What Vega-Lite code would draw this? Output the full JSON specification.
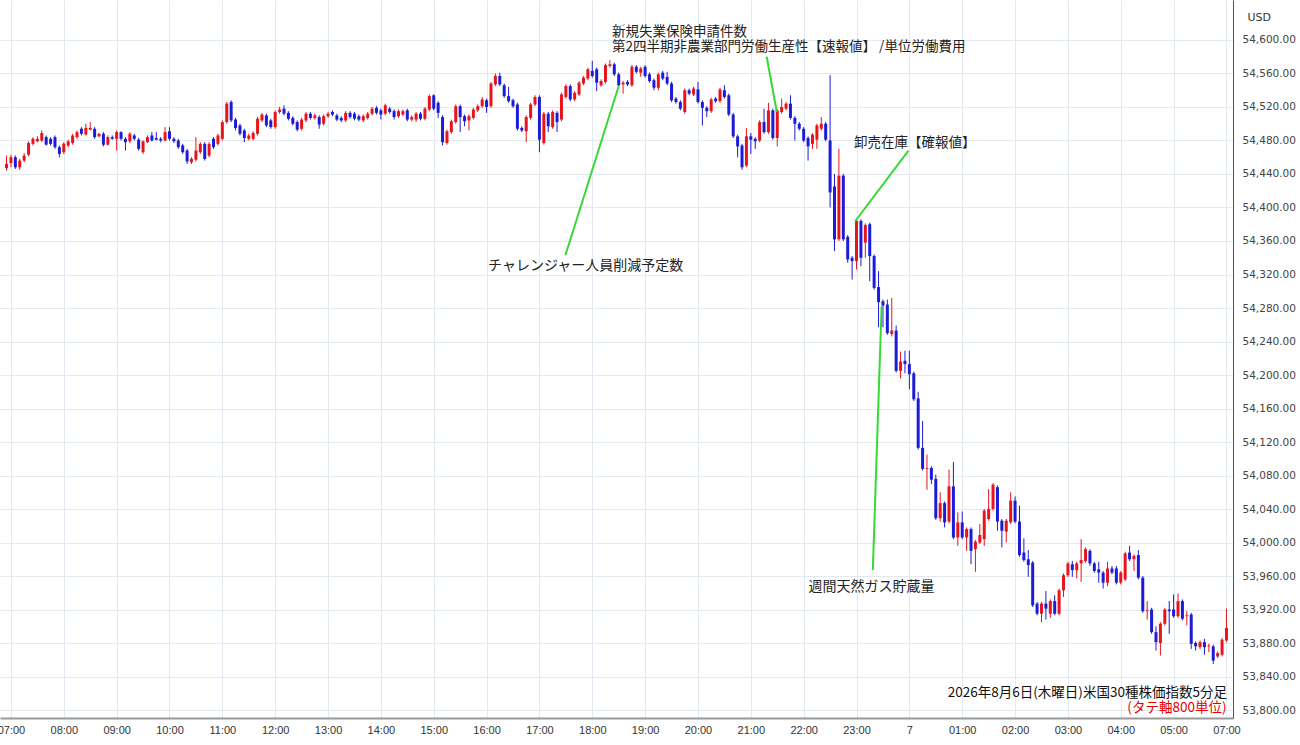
{
"$schema": "https://vega.github.io/schema/vega-lite/v6.json",
"width": 1233, "height": 718,
"autosize": {"type": "none"},
"padding": {"left": 0, "top": 0, "right": 67, "bottom": 27},
"background": "white",
"config": {
"view": {"stroke": null},
"font": "Noto Sans CJK JP",
"axis": {"grid": true, "gridColor": "#e3e9f0", "gridWidth": 1, "ticks": false, "labelOverlap": false, "labelFlush": false},
"axisX": {"domainColor": "#9a9a9a", "domainWidth": 2, "labelFont": "Liberation Sans", "labelFontSize": 11, "labelColor": "#333333", "labelPadding": 6},
"axisY": {"domainColor": "#555555", "domainWidth": 1, "labelFont": "DejaVu Sans", "labelFontSize": 10.5, "labelColor": "#444444", "labelPadding": 9,
"titleAngle": 0, "titleX": 14, "titleY": 17, "titleAlign": "left", "titleBaseline": "middle", "titleFont": "DejaVu Sans", "titleFontSize": 11, "titleFontWeight": "normal", "titleColor": "#333333"}
},
"datasets": {
"ohlc": [
{"i":-1,"o":54447,"h":54462,"l":54444,"c":54452},
{"i":0,"o":54453,"h":54463,"l":54448,"c":54460},
{"i":1,"o":54460,"h":54462,"l":54446,"c":54448},
{"i":2,"o":54448,"h":54458,"l":54445,"c":54456},
{"i":3,"o":54456,"h":54465,"l":54454,"c":54462},
{"i":4,"o":54463,"h":54479,"l":54461,"c":54477},
{"i":5,"o":54476,"h":54484,"l":54474,"c":54482},
{"i":6,"o":54479,"h":54485,"l":54478,"c":54482},
{"i":7,"o":54480,"h":54492,"l":54478,"c":54489},
{"i":8,"o":54484,"h":54486,"l":54474,"c":54475},
{"i":9,"o":54482,"h":54484,"l":54474,"c":54476},
{"i":10,"o":54484,"h":54486,"l":54470,"c":54472},
{"i":11,"o":54472,"h":54474,"l":54460,"c":54464},
{"i":12,"o":54466,"h":54478,"l":54464,"c":54476},
{"i":13,"o":54474,"h":54481,"l":54472,"c":54479},
{"i":14,"o":54477,"h":54488,"l":54475,"c":54486},
{"i":15,"o":54484,"h":54492,"l":54482,"c":54490},
{"i":16,"o":54494,"h":54496,"l":54486,"c":54488},
{"i":17,"o":54487,"h":54500,"l":54486,"c":54495},
{"i":18,"o":54493,"h":54502,"l":54492,"c":54495},
{"i":19,"o":54494,"h":54496,"l":54482,"c":54484},
{"i":20,"o":54485,"h":54489,"l":54484,"c":54488},
{"i":21,"o":54488,"h":54490,"l":54473,"c":54475},
{"i":22,"o":54475,"h":54486,"l":54474,"c":54484},
{"i":23,"o":54484,"h":54486,"l":54481,"c":54482},
{"i":24,"o":54482,"h":54492,"l":54468,"c":54490},
{"i":25,"o":54490,"h":54491,"l":54480,"c":54482},
{"i":26,"o":54482,"h":54484,"l":54468,"c":54478},
{"i":27,"o":54479,"h":54490,"l":54477,"c":54488},
{"i":28,"o":54486,"h":54488,"l":54480,"c":54482},
{"i":29,"o":54481,"h":54483,"l":54468,"c":54470},
{"i":30,"o":54466,"h":54480,"l":54464,"c":54479},
{"i":31,"o":54478,"h":54486,"l":54477,"c":54484},
{"i":32,"o":54486,"h":54490,"l":54479,"c":54480},
{"i":33,"o":54483,"h":54490,"l":54480,"c":54481},
{"i":34,"o":54482,"h":54484,"l":54478,"c":54480},
{"i":35,"o":54480,"h":54496,"l":54479,"c":54490},
{"i":36,"o":54491,"h":54496,"l":54480,"c":54482},
{"i":37,"o":54482,"h":54484,"l":54477,"c":54479},
{"i":38,"o":54480,"h":54482,"l":54470,"c":54472},
{"i":39,"o":54474,"h":54476,"l":54464,"c":54466},
{"i":40,"o":54468,"h":54470,"l":54452,"c":54455},
{"i":41,"o":54454,"h":54460,"l":54452,"c":54458},
{"i":42,"o":54457,"h":54484,"l":54455,"c":54468},
{"i":43,"o":54466,"h":54478,"l":54464,"c":54476},
{"i":44,"o":54476,"h":54478,"l":54456,"c":54458},
{"i":45,"o":54462,"h":54478,"l":54460,"c":54476},
{"i":46,"o":54482,"h":54484,"l":54470,"c":54472},
{"i":47,"o":54476,"h":54488,"l":54474,"c":54486},
{"i":48,"o":54482,"h":54504,"l":54480,"c":54502},
{"i":49,"o":54502,"h":54526,"l":54500,"c":54524},
{"i":50,"o":54526,"h":54528,"l":54502,"c":54504},
{"i":51,"o":54505,"h":54507,"l":54492,"c":54495},
{"i":52,"o":54498,"h":54500,"l":54486,"c":54488},
{"i":53,"o":54492,"h":54494,"l":54478,"c":54483},
{"i":54,"o":54482,"h":54488,"l":54480,"c":54486},
{"i":55,"o":54482,"h":54491,"l":54480,"c":54489},
{"i":56,"o":54488,"h":54508,"l":54486,"c":54506},
{"i":57,"o":54504,"h":54513,"l":54502,"c":54511},
{"i":58,"o":54510,"h":54512,"l":54496,"c":54498},
{"i":59,"o":54504,"h":54506,"l":54494,"c":54496},
{"i":60,"o":54496,"h":54516,"l":54494,"c":54514},
{"i":61,"o":54514,"h":54520,"l":54512,"c":54517},
{"i":62,"o":54518,"h":54522,"l":54510,"c":54512},
{"i":63,"o":54513,"h":54515,"l":54504,"c":54506},
{"i":64,"o":54507,"h":54509,"l":54498,"c":54500},
{"i":65,"o":54502,"h":54504,"l":54491,"c":54493},
{"i":66,"o":54494,"h":54507,"l":54492,"c":54505},
{"i":67,"o":54504,"h":54514,"l":54502,"c":54512},
{"i":68,"o":54512,"h":54514,"l":54505,"c":54507},
{"i":69,"o":54507,"h":54512,"l":54505,"c":54510},
{"i":70,"o":54508,"h":54510,"l":54494,"c":54499},
{"i":71,"o":54500,"h":54511,"l":54498,"c":54509},
{"i":72,"o":54509,"h":54514,"l":54507,"c":54512},
{"i":73,"o":54514,"h":54516,"l":54509,"c":54511},
{"i":74,"o":54510,"h":54512,"l":54503,"c":54505},
{"i":75,"o":54507,"h":54509,"l":54502,"c":54504},
{"i":76,"o":54504,"h":54515,"l":54502,"c":54513},
{"i":77,"o":54513,"h":54515,"l":54506,"c":54508},
{"i":78,"o":54512,"h":54514,"l":54504,"c":54506},
{"i":79,"o":54509,"h":54511,"l":54503,"c":54505},
{"i":80,"o":54504,"h":54511,"l":54502,"c":54509},
{"i":81,"o":54507,"h":54514,"l":54505,"c":54512},
{"i":82,"o":54512,"h":54520,"l":54510,"c":54518},
{"i":83,"o":54519,"h":54521,"l":54511,"c":54513},
{"i":84,"o":54516,"h":54518,"l":54505,"c":54511},
{"i":85,"o":54512,"h":54524,"l":54510,"c":54522},
{"i":86,"o":54518,"h":54520,"l":54512,"c":54514},
{"i":87,"o":54515,"h":54517,"l":54505,"c":54508},
{"i":88,"o":54509,"h":54517,"l":54507,"c":54515},
{"i":89,"o":54511,"h":54517,"l":54509,"c":54515},
{"i":90,"o":54516,"h":54518,"l":54503,"c":54505},
{"i":91,"o":54505,"h":54510,"l":54503,"c":54508},
{"i":92,"o":54505,"h":54514,"l":54502,"c":54512},
{"i":93,"o":54512,"h":54514,"l":54504,"c":54506},
{"i":94,"o":54506,"h":54520,"l":54504,"c":54518},
{"i":95,"o":54517,"h":54535,"l":54515,"c":54533},
{"i":96,"o":54534,"h":54535,"l":54516,"c":54518},
{"i":97,"o":54525,"h":54527,"l":54507,"c":54513},
{"i":98,"o":54508,"h":54510,"l":54474,"c":54478},
{"i":99,"o":54477,"h":54493,"l":54475,"c":54491},
{"i":100,"o":54490,"h":54505,"l":54488,"c":54503},
{"i":101,"o":54502,"h":54523,"l":54500,"c":54521},
{"i":102,"o":54521,"h":54523,"l":54490,"c":54508},
{"i":103,"o":54509,"h":54511,"l":54497,"c":54503},
{"i":104,"o":54504,"h":54511,"l":54492,"c":54509},
{"i":105,"o":54507,"h":54519,"l":54505,"c":54517},
{"i":106,"o":54516,"h":54523,"l":54514,"c":54521},
{"i":107,"o":54521,"h":54532,"l":54519,"c":54529},
{"i":108,"o":54528,"h":54530,"l":54513,"c":54520},
{"i":109,"o":54521,"h":54550,"l":54519,"c":54548},
{"i":110,"o":54547,"h":54560,"l":54545,"c":54557},
{"i":111,"o":54557,"h":54561,"l":54545,"c":54547},
{"i":112,"o":54546,"h":54548,"l":54531,"c":54533},
{"i":113,"o":54533,"h":54544,"l":54525,"c":54527},
{"i":114,"o":54528,"h":54530,"l":54519,"c":54521},
{"i":115,"o":54523,"h":54525,"l":54492,"c":54494},
{"i":116,"o":54495,"h":54497,"l":54490,"c":54492},
{"i":117,"o":54491,"h":54510,"l":54478,"c":54508},
{"i":118,"o":54507,"h":54525,"l":54505,"c":54523},
{"i":119,"o":54523,"h":54534,"l":54521,"c":54532},
{"i":120,"o":54532,"h":54534,"l":54466,"c":54481},
{"i":121,"o":54477,"h":54514,"l":54475,"c":54512},
{"i":122,"o":54512,"h":54514,"l":54490,"c":54497},
{"i":123,"o":54496,"h":54516,"l":54494,"c":54514},
{"i":124,"o":54513,"h":54515,"l":54490,"c":54502},
{"i":125,"o":54505,"h":54537,"l":54503,"c":54535},
{"i":126,"o":54532,"h":54547,"l":54530,"c":54545},
{"i":127,"o":54545,"h":54547,"l":54527,"c":54529},
{"i":128,"o":54529,"h":54539,"l":54527,"c":54537},
{"i":129,"o":54535,"h":54551,"l":54533,"c":54549},
{"i":130,"o":54548,"h":54557,"l":54546,"c":54555},
{"i":131,"o":54554,"h":54567,"l":54552,"c":54565},
{"i":132,"o":54563,"h":54575,"l":54555,"c":54557},
{"i":133,"o":54565,"h":54567,"l":54539,"c":54549},
{"i":134,"o":54546,"h":54553,"l":54544,"c":54551},
{"i":135,"o":54550,"h":54572,"l":54548,"c":54570},
{"i":136,"o":54569,"h":54576,"l":54567,"c":54571},
{"i":137,"o":54571,"h":54573,"l":54557,"c":54559},
{"i":138,"o":54559,"h":54561,"l":54544,"c":54546},
{"i":139,"o":54547,"h":54551,"l":54536,"c":54549},
{"i":140,"o":54550,"h":54552,"l":54545,"c":54547},
{"i":141,"o":54546,"h":54570,"l":54544,"c":54568},
{"i":142,"o":54568,"h":54570,"l":54560,"c":54562},
{"i":143,"o":54561,"h":54568,"l":54556,"c":54566},
{"i":144,"o":54568,"h":54570,"l":54555,"c":54557},
{"i":145,"o":54559,"h":54561,"l":54549,"c":54551},
{"i":146,"o":54552,"h":54554,"l":54540,"c":54543},
{"i":147,"o":54543,"h":54561,"l":54540,"c":54559},
{"i":148,"o":54561,"h":54563,"l":54552,"c":54554},
{"i":149,"o":54556,"h":54562,"l":54546,"c":54548},
{"i":150,"o":54548,"h":54550,"l":54526,"c":54528},
{"i":151,"o":54530,"h":54532,"l":54524,"c":54526},
{"i":152,"o":54526,"h":54528,"l":54516,"c":54518},
{"i":153,"o":54514,"h":54542,"l":54512,"c":54540},
{"i":154,"o":54540,"h":54542,"l":54534,"c":54536},
{"i":155,"o":54535,"h":54544,"l":54533,"c":54542},
{"i":156,"o":54541,"h":54550,"l":54524,"c":54526},
{"i":157,"o":54526,"h":54528,"l":54498,"c":54519},
{"i":158,"o":54519,"h":54521,"l":54508,"c":54515},
{"i":159,"o":54515,"h":54531,"l":54513,"c":54529},
{"i":160,"o":54530,"h":54532,"l":54525,"c":54527},
{"i":161,"o":54527,"h":54543,"l":54525,"c":54541},
{"i":162,"o":54540,"h":54546,"l":54530,"c":54532},
{"i":163,"o":54534,"h":54536,"l":54509,"c":54511},
{"i":164,"o":54511,"h":54513,"l":54483,"c":54485},
{"i":165,"o":54485,"h":54487,"l":54460,"c":54473},
{"i":166,"o":54474,"h":54476,"l":54445,"c":54448},
{"i":167,"o":54450,"h":54495,"l":54448,"c":54485},
{"i":168,"o":54485,"h":54489,"l":54464,"c":54481},
{"i":169,"o":54482,"h":54484,"l":54470,"c":54479},
{"i":170,"o":54480,"h":54504,"l":54478,"c":54502},
{"i":171,"o":54502,"h":54518,"l":54488,"c":54490},
{"i":172,"o":54490,"h":54525,"l":54488,"c":54516},
{"i":173,"o":54516,"h":54518,"l":54481,"c":54483},
{"i":174,"o":54483,"h":54518,"l":54473,"c":54516},
{"i":175,"o":54514,"h":54530,"l":54512,"c":54520},
{"i":176,"o":54518,"h":54526,"l":54516,"c":54524},
{"i":177,"o":54524,"h":54534,"l":54505,"c":54507},
{"i":178,"o":54507,"h":54509,"l":54480,"c":54500},
{"i":179,"o":54500,"h":54502,"l":54492,"c":54494},
{"i":180,"o":54494,"h":54496,"l":54478,"c":54480},
{"i":181,"o":54483,"h":54485,"l":54456,"c":54473},
{"i":182,"o":54476,"h":54489,"l":54470,"c":54487},
{"i":183,"o":54481,"h":54500,"l":54470,"c":54498},
{"i":184,"o":54494,"h":54508,"l":54492,"c":54500},
{"i":185,"o":54500,"h":54502,"l":54479,"c":54481},
{"i":186,"o":54480,"h":54558,"l":54400,"c":54418},
{"i":187,"o":54425,"h":54440,"l":54348,"c":54362},
{"i":188,"o":54362,"h":54470,"l":54360,"c":54438},
{"i":189,"o":54438,"h":54440,"l":54360,"c":54362},
{"i":190,"o":54365,"h":54367,"l":54334,"c":54338},
{"i":191,"o":54340,"h":54342,"l":54314,"c":54336},
{"i":192,"o":54336,"h":54386,"l":54326,"c":54384},
{"i":193,"o":54384,"h":54386,"l":54330,"c":54340},
{"i":194,"o":54358,"h":54381,"l":54340,"c":54379},
{"i":195,"o":54380,"h":54382,"l":54312,"c":54342},
{"i":196,"o":54342,"h":54344,"l":54302,"c":54304},
{"i":197,"o":54305,"h":54324,"l":54257,"c":54287},
{"i":198,"o":54288,"h":54290,"l":54257,"c":54283},
{"i":199,"o":54284,"h":54290,"l":54248,"c":54250},
{"i":200,"o":54249,"h":54292,"l":54246,"c":54253},
{"i":201,"o":54253,"h":54259,"l":54203,"c":54205},
{"i":202,"o":54205,"h":54228,"l":54196,"c":54216},
{"i":203,"o":54217,"h":54229,"l":54202,"c":54213},
{"i":204,"o":54213,"h":54229,"l":54183,"c":54201},
{"i":205,"o":54202,"h":54204,"l":54169,"c":54171},
{"i":206,"o":54172,"h":54180,"l":54111,"c":54113},
{"i":207,"o":54113,"h":54145,"l":54086,"c":54088},
{"i":208,"o":54088,"h":54105,"l":54063,"c":54089},
{"i":209,"o":54089,"h":54091,"l":54070,"c":54075},
{"i":210,"o":54076,"h":54081,"l":54027,"c":54029},
{"i":211,"o":54029,"h":54060,"l":54025,"c":54047},
{"i":212,"o":54047,"h":54049,"l":54018,"c":54024},
{"i":213,"o":54025,"h":54087,"l":54023,"c":54067},
{"i":214,"o":54067,"h":54096,"l":54004,"c":54006},
{"i":215,"o":54006,"h":54036,"l":53996,"c":54024},
{"i":216,"o":54024,"h":54037,"l":54004,"c":54006},
{"i":217,"o":54006,"h":54018,"l":53990,"c":54016},
{"i":218,"o":54016,"h":54018,"l":53974,"c":53990},
{"i":219,"o":53992,"h":54003,"l":53965,"c":54001},
{"i":220,"o":54000,"h":54022,"l":53998,"c":54009},
{"i":221,"o":54004,"h":54040,"l":53996,"c":54038},
{"i":222,"o":54028,"h":54064,"l":54026,"c":54040},
{"i":223,"o":54040,"h":54071,"l":54038,"c":54069},
{"i":224,"o":54066,"h":54068,"l":54014,"c":54025},
{"i":225,"o":54026,"h":54028,"l":53994,"c":54014},
{"i":226,"o":54013,"h":54028,"l":54000,"c":54026},
{"i":227,"o":54024,"h":54060,"l":54022,"c":54050},
{"i":228,"o":54050,"h":54055,"l":54023,"c":54025},
{"i":229,"o":54025,"h":54044,"l":53983,"c":53985},
{"i":230,"o":53988,"h":54005,"l":53977,"c":53979},
{"i":231,"o":53980,"h":53991,"l":53959,"c":53973},
{"i":232,"o":53976,"h":53978,"l":53923,"c":53925},
{"i":233,"o":53927,"h":53929,"l":53913,"c":53915},
{"i":234,"o":53915,"h":53929,"l":53905,"c":53927},
{"i":235,"o":53927,"h":53942,"l":53908,"c":53921},
{"i":236,"o":53915,"h":53932,"l":53910,"c":53930},
{"i":237,"o":53930,"h":53937,"l":53913,"c":53915},
{"i":238,"o":53915,"h":53945,"l":53913,"c":53943},
{"i":239,"o":53943,"h":53963,"l":53935,"c":53961},
{"i":240,"o":53961,"h":53977,"l":53959,"c":53975},
{"i":241,"o":53974,"h":53978,"l":53959,"c":53967},
{"i":242,"o":53967,"h":53977,"l":53957,"c":53975},
{"i":243,"o":53975,"h":54004,"l":53953,"c":53979},
{"i":244,"o":53978,"h":53994,"l":53976,"c":53992},
{"i":245,"o":53990,"h":53992,"l":53972,"c":53975},
{"i":246,"o":53975,"h":53977,"l":53964,"c":53966},
{"i":247,"o":53968,"h":53977,"l":53952,"c":53964},
{"i":248,"o":53964,"h":53966,"l":53945,"c":53952},
{"i":249,"o":53952,"h":53977,"l":53948,"c":53969},
{"i":250,"o":53969,"h":53972,"l":53962,"c":53964},
{"i":251,"o":53969,"h":53972,"l":53950,"c":53952},
{"i":252,"o":53952,"h":53966,"l":53950,"c":53964},
{"i":253,"o":53956,"h":53989,"l":53954,"c":53987},
{"i":254,"o":53988,"h":53996,"l":53978,"c":53980},
{"i":255,"o":53980,"h":53986,"l":53966,"c":53984},
{"i":256,"o":53985,"h":53991,"l":53956,"c":53958},
{"i":257,"o":53958,"h":53960,"l":53916,"c":53918},
{"i":258,"o":53918,"h":53930,"l":53908,"c":53919},
{"i":259,"o":53920,"h":53922,"l":53891,"c":53893},
{"i":260,"o":53893,"h":53900,"l":53871,"c":53881},
{"i":261,"o":53880,"h":53905,"l":53865,"c":53903},
{"i":262,"o":53903,"h":53922,"l":53901,"c":53920},
{"i":263,"o":53920,"h":53930,"l":53891,"c":53918},
{"i":264,"o":53920,"h":53938,"l":53910,"c":53912},
{"i":265,"o":53912,"h":53939,"l":53910,"c":53930},
{"i":266,"o":53930,"h":53932,"l":53907,"c":53909},
{"i":267,"o":53912,"h":53918,"l":53901,"c":53913},
{"i":268,"o":53914,"h":53916,"l":53873,"c":53879},
{"i":269,"o":53880,"h":53882,"l":53871,"c":53876},
{"i":270,"o":53875,"h":53883,"l":53873,"c":53881},
{"i":271,"o":53881,"h":53885,"l":53866,"c":53875},
{"i":272,"o":53876,"h":53879,"l":53869,"c":53877},
{"i":273,"o":53876,"h":53878,"l":53855,"c":53859},
{"i":274,"o":53864,"h":53870,"l":53862,"c":53868},
{"i":275,"o":53866,"h":53886,"l":53864,"c":53884},
{"i":276,"o":53883,"h":53921,"l":53881,"c":53898}
],
"leaders": [
{"xa":138.0,"ya":54545,"xb":125.9,"yb":54343},
{"xa":171.6,"ya":54580,"xb":173.9,"yb":54514},
{"xa":203.8,"ya":54468,"xb":191.6,"yb":54383},
{"xa":197.7,"ya":54282,"xb":195.7,"yb":53967}
],
"centerNotes": [
{"label":"チャレンジャー人員削減予定数","i":130.5,"p":54330},
{"label":"週間天然ガス貯蔵量","i":195.4,"p":53947}
],
"leftNotes": [
{"label":"新規失業保険申請件数","i":136.5,"p":54609.6},
{"label":"第2四半期非農業部門労働生産性【速報値】 /単位労働費用","i":136.5,"p":54591.6},
{"label":"卸売在庫【確報値】","i":191.4,"p":54477}
],
"caption": [{"label":"2026年8月6日(木曜日)米国30種株価指数5分足","i":276.1,"p":53820.3}],
"captionRed": [{"label":"(タテ軸800単位)","i":276.0,"p":53802.4}]
},
"layer": [
{
"data": {"name": "ohlc"},
"mark": {"type": "rule", "strokeWidth": 1},
"encoding": {
"x": {"field": "i", "type": "quantitative", "scale": {"domain": [-1.35, 276.35], "nice": false, "zero": false},
"axis": {"values": [0,12,24,36,48,60,72,84,96,108,120,132,144,156,168,180,192,204,216,228,240,252,264,276],
"labelExpr": "datum.value == 204 ? '7' : datum.value >= 276 ? '07:00' : (((7 + datum.value / 12) % 24) < 10 ? '0' : '') + ((7 + datum.value / 12) % 24) + ':00'",
"labelOverlap": false, "labelFlush": false, "title": null}},
"y": {"field": "l", "type": "quantitative", "scale": {"domain": [53790.45, 54647.76], "nice": false, "zero": false},
"axis": {"orient": "right", "values": [53800,53840,53880,53920,53960,54000,54040,54080,54120,54160,54200,54240,54280,54320,54360,54400,54440,54480,54520,54560,54600],
"format": ",.2f", "labelOverlap": false, "labelFlush": false, "title": "USD"}},
"y2": {"field": "h"},
"color": {"condition": {"test": "datum.c >= datum.o", "value": "#e8141c"}, "value": "#1c1cd8"}
}
},
{
"data": {"name": "ohlc"},
"mark": {"type": "bar", "width": 3},
"encoding": {
"x": {"field": "i", "type": "quantitative",
"axis": {"values": [0,12,24,36,48,60,72,84,96,108,120,132,144,156,168,180,192,204,216,228,240,252,264,276],
"labelExpr": "datum.value == 204 ? '7' : datum.value >= 276 ? '07:00' : (((7 + datum.value / 12) % 24) < 10 ? '0' : '') + ((7 + datum.value / 12) % 24) + ':00'",
"labelOverlap": false, "labelFlush": false, "title": null}},
"y": {"field": "o", "type": "quantitative",
"axis": {"orient": "right", "values": [53800,53840,53880,53920,53960,54000,54040,54080,54120,54160,54200,54240,54280,54320,54360,54400,54440,54480,54520,54560,54600],
"format": ",.2f", "labelOverlap": false, "labelFlush": false, "title": "USD"}},
"y2": {"field": "c"},
"color": {"condition": {"test": "datum.c >= datum.o", "value": "#e8141c"}, "value": "#1c1cd8"}
}
},
{
"data": {"name": "leaders"},
"mark": {"type": "rule", "color": "#36d936", "strokeWidth": 2},
"encoding": {
"x": {"field": "xa", "type": "quantitative",
"axis": {"values": [0,12,24,36,48,60,72,84,96,108,120,132,144,156,168,180,192,204,216,228,240,252,264,276],
"labelExpr": "datum.value == 204 ? '7' : datum.value >= 276 ? '07:00' : (((7 + datum.value / 12) % 24) < 10 ? '0' : '') + ((7 + datum.value / 12) % 24) + ':00'",
"labelOverlap": false, "labelFlush": false, "title": null}},
"x2": {"field": "xb"},
"y": {"field": "ya", "type": "quantitative",
"axis": {"orient": "right", "values": [53800,53840,53880,53920,53960,54000,54040,54080,54120,54160,54200,54240,54280,54320,54360,54400,54440,54480,54520,54560,54600],
"format": ",.2f", "labelOverlap": false, "labelFlush": false, "title": "USD"}},
"y2": {"field": "yb"}
}
},
{
"data": {"name": "centerNotes"},
"mark": {"type": "text", "align": "center", "baseline": "middle", "fontSize": 14, "color": "#222222", "font": "Noto Sans CJK JP"},
"encoding": {
"x": {"field": "i", "type": "quantitative",
"axis": {"values": [0,12,24,36,48,60,72,84,96,108,120,132,144,156,168,180,192,204,216,228,240,252,264,276],
"labelExpr": "datum.value == 204 ? '7' : datum.value >= 276 ? '07:00' : (((7 + datum.value / 12) % 24) < 10 ? '0' : '') + ((7 + datum.value / 12) % 24) + ':00'",
"labelOverlap": false, "labelFlush": false, "title": null}},
"y": {"field": "p", "type": "quantitative",
"axis": {"orient": "right", "values": [53800,53840,53880,53920,53960,54000,54040,54080,54120,54160,54200,54240,54280,54320,54360,54400,54440,54480,54520,54560,54600],
"format": ",.2f", "labelOverlap": false, "labelFlush": false, "title": "USD"}},
"text": {"field": "label"}
}
},
{
"data": {"name": "leftNotes"},
"mark": {"type": "text", "align": "left", "baseline": "middle", "fontSize": 13.5, "color": "#222222", "font": "Noto Sans CJK JP"},
"encoding": {
"x": {"field": "i", "type": "quantitative",
"axis": {"values": [0,12,24,36,48,60,72,84,96,108,120,132,144,156,168,180,192,204,216,228,240,252,264,276],
"labelExpr": "datum.value == 204 ? '7' : datum.value >= 276 ? '07:00' : (((7 + datum.value / 12) % 24) < 10 ? '0' : '') + ((7 + datum.value / 12) % 24) + ':00'",
"labelOverlap": false, "labelFlush": false, "title": null}},
"y": {"field": "p", "type": "quantitative",
"axis": {"orient": "right", "values": [53800,53840,53880,53920,53960,54000,54040,54080,54120,54160,54200,54240,54280,54320,54360,54400,54440,54480,54520,54560,54600],
"format": ",.2f", "labelOverlap": false, "labelFlush": false, "title": "USD"}},
"text": {"field": "label"}
}
},
{
"data": {"name": "caption"},
"mark": {"type": "text", "align": "right", "baseline": "middle", "fontSize": 13.5, "color": "#111111", "font": "Noto Sans CJK JP"},
"encoding": {
"x": {"field": "i", "type": "quantitative",
"axis": {"values": [0,12,24,36,48,60,72,84,96,108,120,132,144,156,168,180,192,204,216,228,240,252,264,276],
"labelExpr": "datum.value == 204 ? '7' : datum.value >= 276 ? '07:00' : (((7 + datum.value / 12) % 24) < 10 ? '0' : '') + ((7 + datum.value / 12) % 24) + ':00'",
"labelOverlap": false, "labelFlush": false, "title": null}},
"y": {"field": "p", "type": "quantitative",
"axis": {"orient": "right", "values": [53800,53840,53880,53920,53960,54000,54040,54080,54120,54160,54200,54240,54280,54320,54360,54400,54440,54480,54520,54560,54600],
"format": ",.2f", "labelOverlap": false, "labelFlush": false, "title": "USD"}},
"text": {"field": "label"}
}
},
{
"data": {"name": "captionRed"},
"mark": {"type": "text", "align": "right", "baseline": "middle", "fontSize": 13.5, "color": "#e60000", "font": "Noto Sans CJK JP"},
"encoding": {
"x": {"field": "i", "type": "quantitative",
"axis": {"values": [0,12,24,36,48,60,72,84,96,108,120,132,144,156,168,180,192,204,216,228,240,252,264,276],
"labelExpr": "datum.value == 204 ? '7' : datum.value >= 276 ? '07:00' : (((7 + datum.value / 12) % 24) < 10 ? '0' : '') + ((7 + datum.value / 12) % 24) + ':00'",
"labelOverlap": false, "labelFlush": false, "title": null}},
"y": {"field": "p", "type": "quantitative",
"axis": {"orient": "right", "values": [53800,53840,53880,53920,53960,54000,54040,54080,54120,54160,54200,54240,54280,54320,54360,54400,54440,54480,54520,54560,54600],
"format": ",.2f", "labelOverlap": false, "labelFlush": false, "title": "USD"}},
"text": {"field": "label"}
}
}
]
}
